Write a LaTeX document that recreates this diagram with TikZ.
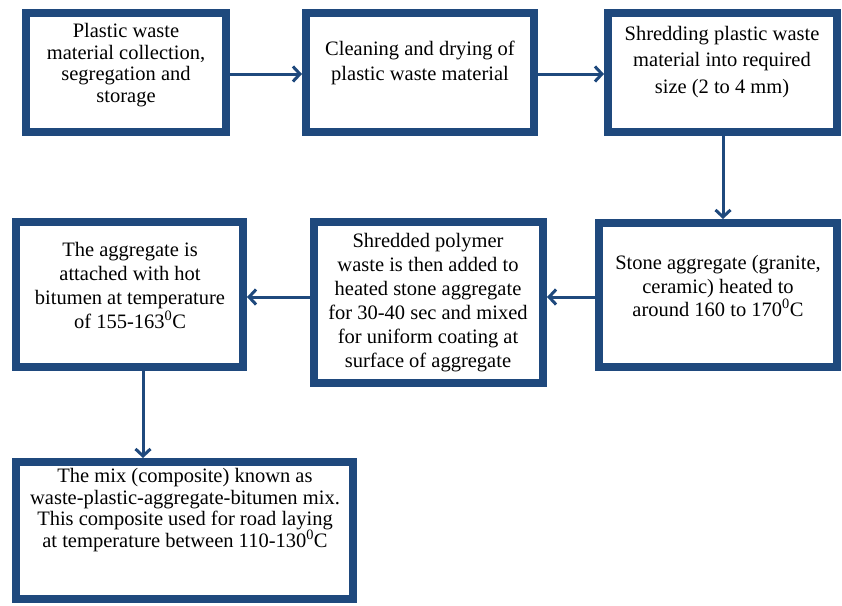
\documentclass[tikz,border=0pt]{standalone}
\usepackage{fontspec}
\setmainfont{Liberation Serif}
\usetikzlibrary{arrows.meta}
\definecolor{boxblue}{RGB}{31,73,125}
\tikzset{
  stepbox/.style={draw=boxblue, line width=8pt, fill=white, inner sep=0pt},
  steptext/.style={align=center, inner sep=0pt, font=\fontsize{20.5pt}{#1}\selectfont},
  flow/.style={draw=boxblue, line width=3pt,
    -{Straight Barb[length=7pt,width=15pt,line width=3pt]}}
}
% box from outer corner (x1,y1) to (x2,y2), line centred 4pt inside
\newcommand{\flowbox}[5]{%
  \node[stepbox, minimum width=#4-#2-8pt, minimum height=#5-#3-8pt]
    (#1) at ({(#2+#4)/2},{(#3+#5)/2}) {};}
\begin{document}
\begin{tikzpicture}[x=1pt,y=-1pt]
\useasboundingbox (0,0) rectangle (842,605);

\flowbox{b1}{22}{9}{230}{136}
\flowbox{b2}{302}{9}{538}{136}
\flowbox{b3}{604}{9}{841}{136}
\flowbox{b4}{595}{219}{841}{371}
\flowbox{b5}{310}{218}{547}{387}
\flowbox{b6}{12}{218}{247}{371}
\flowbox{b7}{12}{458}{357}{603}

\node[steptext=21.5pt] (t1) at (126,65) {Plastic waste\\material collection,\\segregation and\\storage};
\node[steptext=25pt] (t2) at (420,63) {Cleaning and drying of\\plastic waste material};
\node[steptext=26.5pt] (t3) at (722,62) {Shredding plastic waste\\material into required\\size (2 to 4 mm)};
\node[steptext=23.5pt] (t4) at (718,286) {Stone aggregate (granite,\\ceramic) heated to\\around 160 to 170\textsuperscript{0}C};
\node[steptext=24pt] (t5) at (428,303) {Shredded polymer\\waste is then added to\\heated stone aggregate\\for 30-40 sec and mixed\\for uniform coating at\\surface of aggregate};
\node[steptext=24pt] (t6) at (130,285) {The aggregate is\\attached with hot\\bitumen at temperature\\of 155-163\textsuperscript{0}C};
\node[steptext=21.7pt] (t7) at (185,510) {The mix (composite) known as\\waste-plastic-aggregate-bitumen mix.\\This composite used for road laying\\at temperature between 110-130\textsuperscript{0}C};

\draw[flow] (b1.east |- 0,74) -- (b2.west |- 0,74);
\draw[flow] (b2.east |- 0,74) -- (b3.west |- 0,74);
\draw[flow] (723,0 |- b3.south) -- (723,0 |- b4.north);
\draw[flow] (b4.west |- 0,297) -- (b5.east |- 0,297);
\draw[flow] (b5.west |- 0,297) -- (b6.east |- 0,297);
\draw[flow] (143,0 |- b6.south) -- (143,0 |- b7.north);
\end{tikzpicture}
\end{document}
